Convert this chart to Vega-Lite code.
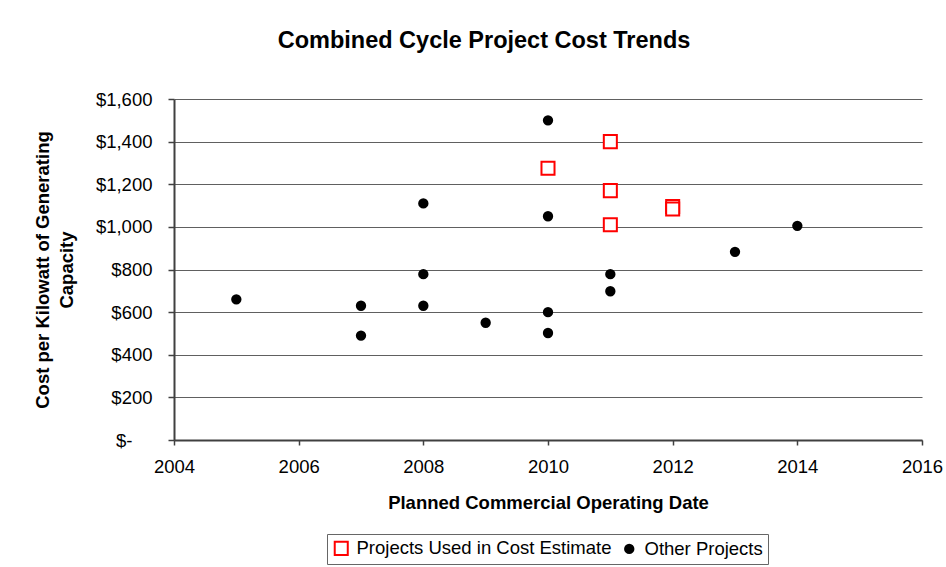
{
  "$schema": "https://vega.github.io/schema/vega-lite/v6.json",
  "width": 748,
  "height": 341,
  "autosize": {"type": "none"},
  "padding": {"left": 174, "top": 99, "right": 24, "bottom": 127},
  "background": "white",
  "title": {
    "text": "Combined Cycle Project Cost Trends",
    "font": "Liberation Sans",
    "fontSize": 23.5,
    "fontWeight": "bold",
    "color": "black",
    "anchor": "middle",
    "frame": "group",
    "dx": -64,
    "offset": 38
  },
  "data": {
    "values": [
      {"year": 2005, "cost": 660, "type": "Other Projects"},
      {"year": 2007, "cost": 630, "type": "Other Projects"},
      {"year": 2007, "cost": 490, "type": "Other Projects"},
      {"year": 2008, "cost": 1110, "type": "Other Projects"},
      {"year": 2008, "cost": 778, "type": "Other Projects"},
      {"year": 2008, "cost": 630, "type": "Other Projects"},
      {"year": 2009, "cost": 550, "type": "Other Projects"},
      {"year": 2010, "cost": 1500, "type": "Other Projects"},
      {"year": 2010, "cost": 1050, "type": "Other Projects"},
      {"year": 2010, "cost": 600, "type": "Other Projects"},
      {"year": 2010, "cost": 502, "type": "Other Projects"},
      {"year": 2011, "cost": 778, "type": "Other Projects"},
      {"year": 2011, "cost": 698, "type": "Other Projects"},
      {"year": 2013, "cost": 883, "type": "Other Projects"},
      {"year": 2014, "cost": 1005, "type": "Other Projects"},
      {"year": 2010, "cost": 1275, "type": "Projects Used in Cost Estimate"},
      {"year": 2011, "cost": 1400, "type": "Projects Used in Cost Estimate"},
      {"year": 2011, "cost": 1170, "type": "Projects Used in Cost Estimate"},
      {"year": 2011, "cost": 1010, "type": "Projects Used in Cost Estimate"},
      {"year": 2012, "cost": 1096, "type": "Projects Used in Cost Estimate"},
      {"year": 2012, "cost": 1084, "type": "Projects Used in Cost Estimate"}
    ]
  },
  "mark": {"type": "point", "strokeWidth": 2, "opacity": 1},
  "encoding": {
    "x": {
      "field": "year",
      "type": "quantitative",
      "scale": {"domain": [2004, 2016], "nice": false, "zero": false},
      "axis": {
        "title": "Planned Commercial Operating Date",
        "values": [2004, 2006, 2008, 2010, 2012, 2014, 2016],
        "format": "d",
        "grid": false,
        "labelFlush": false,
        "tickSize": 5,
        "labelPadding": 12,
        "titlePadding": 18
      }
    },
    "y": {
      "field": "cost",
      "type": "quantitative",
      "scale": {"domain": [0, 1600], "nice": false},
      "axis": {
        "title": ["Cost per Kilowatt of Generating", "Capacity"],
        "values": [0, 200, 400, 600, 800, 1000, 1200, 1400, 1600],
        "labelExpr": "datum.value == 0 ? '$-' : '$' + format(datum.value, ',')",
        "labelPadding": {"condition": {"test": "datum.value == 0", "value": 36}, "value": 16},
        "labelFlush": false,
        "grid": true,
        "tickSize": 6,
        "titlePadding": 19,
        "titleLineHeight": 24
      }
    },
    "shape": {
      "field": "type",
      "type": "nominal",
      "scale": {"domain": ["Projects Used in Cost Estimate", "Other Projects"], "range": ["square", "circle"]},
      "legend": {"title": null}
    },
    "stroke": {
      "field": "type",
      "type": "nominal",
      "scale": {"domain": ["Projects Used in Cost Estimate", "Other Projects"], "range": ["#FF0000", "#000000"]},
      "legend": {"title": null}
    },
    "fill": {
      "field": "type",
      "type": "nominal",
      "scale": {"domain": ["Projects Used in Cost Estimate", "Other Projects"], "range": ["#FFFFFF", "#000000"]},
      "legend": {"title": null}
    },
    "size": {
      "field": "type",
      "type": "nominal",
      "scale": {"domain": ["Projects Used in Cost Estimate", "Other Projects"], "range": [170, 70]},
      "legend": {"title": null}
    }
  },
  "config": {
    "font": "Liberation Sans",
    "view": {"stroke": null},
    "axis": {
      "labelFont": "Liberation Sans",
      "labelFontSize": 18.5,
      "labelColor": "black",
      "titleFont": "Liberation Sans",
      "titleFontSize": 18.5,
      "titleFontWeight": "bold",
      "titleColor": "black",
      "domainColor": "#404040",
      "domainWidth": 2,
      "tickColor": "#404040",
      "tickWidth": 1.5,
      "gridColor": "#606060",
      "gridWidth": 1.2,
      "gridOpacity": 1
    },
    "legend": {
      "orient": "none",
      "legendX": 153,
      "legendY": 435,
      "direction": "horizontal",
      "labelFont": "Liberation Sans",
      "labelFontSize": 18.5,
      "labelColor": "black",
      "labelLimit": 0,
      "labelOffset": 6,
      "strokeColor": "#666666",
      "padding": 5,
      "columnPadding": 8,
      "symbolStrokeWidth": 2
    }
  }
}
